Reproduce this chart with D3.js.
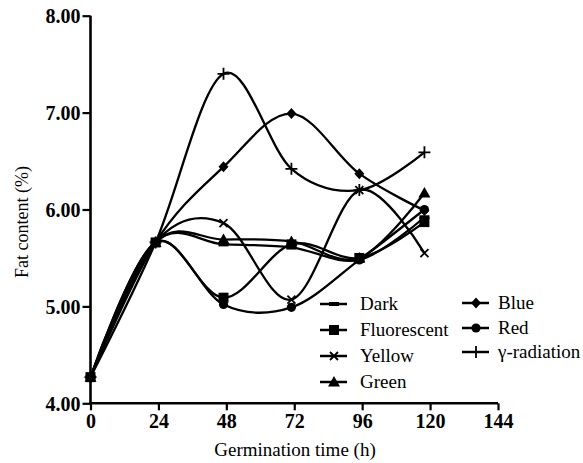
<!DOCTYPE html>
<html>
<head>
<meta charset="utf-8">
<script src="https://cdn.jsdelivr.net/npm/d3@7"></script>
<style>
  html, body { margin: 0; padding: 0; background: #fff; }
  svg { display: block; }
</style>
</head>
<body>
<svg id="chart" width="583" height="463"></svg>
<script>
// Germination time (h) of each sampling point
const hours = [0, 23, 47, 71, 95, 118];

// Fat content (%) per light treatment
const dark        = [4.27, 5.66, 5.64, 5.61, 5.48, 5.92];
const fluorescent = [4.27, 5.66, 5.09, 5.64, 5.50, 5.87];
const yellow      = [4.27, 5.66, 5.86, 5.07, 6.20, 5.55];
const green       = [4.27, 5.66, 5.69, 5.67, 5.50, 6.17];
const blue        = [4.27, 5.66, 6.44, 6.99, 6.37, 5.99];
const red         = [4.27, 5.66, 5.02, 4.99, 5.48, 6.00];
const gamma       = [4.27, 5.66, 7.40, 6.42, 6.20, 6.59];

const seriesNames = ["Dark", "Fluorescent", "Yellow", "Green", "Blue", "Red", "\u03b3-radiation"];
const xTicks = [0, 24, 48, 72, 96, 120, 144];
const yTicks = [4, 5, 6, 7, 8];

const serif = "'Liberation Serif', 'Times New Roman', Times, serif";

const series = [
  { name: seriesNames[0], values: dark,        marker: "dash" },
  { name: seriesNames[1], values: fluorescent, marker: "square" },
  { name: seriesNames[2], values: yellow,      marker: "x" },
  { name: seriesNames[3], values: green,       marker: "triangle" },
  { name: seriesNames[4], values: blue,        marker: "diamond" },
  { name: seriesNames[5], values: red,         marker: "circle" },
  { name: seriesNames[6], values: gamma,       marker: "plus" }
];

const svg = d3.select("#chart");

const x = d3.scaleLinear().domain([0, 144]).range([90.5, 498]);
const y = d3.scaleLinear().domain([4, 8]).range([403.3, 15.7]);

// Marker shapes
function drawMarker(g, type, cx, cy) {
  const m = g.append("g").attr("transform", `translate(${cx},${cy})`);
  switch (type) {
    case "square":
      m.append("rect").attr("x", -5).attr("y", -5).attr("width", 10).attr("height", 10).attr("fill", "#000");
      break;
    case "triangle":
      m.append("path").attr("d", "M0,-6L6,4.5L-6,4.5Z").attr("fill", "#000");
      break;
    case "diamond":
      m.append("path").attr("d", "M0,-5.5L5,0L0,5.5L-5,0Z").attr("fill", "#000");
      break;
    case "circle":
      m.append("circle").attr("r", 4.6).attr("fill", "#000");
      break;
    case "x":
      m.append("path").attr("d", "M-4,-4L4,4M-4,4L4,-4").attr("stroke", "#000").attr("stroke-width", 1.8).attr("fill", "none");
      break;
    case "plus":
      m.append("path").attr("d", "M-6,0L6,0M0,-6L0,6").attr("stroke", "#000").attr("stroke-width", 1.8).attr("fill", "none");
      break;
    case "dash":
      m.append("rect").attr("x", -5).attr("y", -2).attr("width", 10).attr("height", 4).attr("fill", "#000");
      break;
  }
}

// Smooth curves through the points
const line = d3.line()
  .x((d, i) => x(hours[i]))
  .y(d => y(d))
  .curve(d3.curveCatmullRom.alpha(0));

const plot = svg.append("g");
series.forEach(s => {
  plot.append("path")
    .attr("d", line(s.values))
    .attr("fill", "none")
    .attr("stroke", "#000")
    .attr("stroke-width", 2.3);
});
// markers, fluorescent squares on top
const markerOrder = [0, 2, 3, 4, 5, 6, 1];
markerOrder.forEach(k => {
  const s = series[k];
  s.values.forEach((v, i) => drawMarker(plot, s.marker, x(hours[i]), y(v)));
});

// Axes
const xAxis = d3.axisBottom(x).tickValues(xTicks).tickFormat(d3.format("d")).tickSizeOuter(0).tickSize(7).tickPadding(4);
const yAxis = d3.axisLeft(y).tickValues(yTicks).tickFormat(d3.format(".2f")).tickSizeOuter(0).tickSize(8).tickPadding(2);

const gx = svg.append("g").attr("transform", `translate(0,${y(4)})`).call(xAxis);
const gy = svg.append("g").attr("transform", `translate(${x(0)},0)`).call(yAxis);

[gx, gy].forEach(g => {
  g.attr("font-family", serif).attr("font-size", 20);
  g.select(".domain").attr("stroke", "#000").attr("stroke-width", 2.6);
  g.selectAll(".tick line").attr("stroke", "#000").attr("stroke-width", 2.2);
  g.selectAll(".tick text")
    .style("font-family", serif)
    .style("font-size", "20px")
    .style("font-weight", "bold")
    .attr("fill", "#000");
});
gy.selectAll(".tick text").attr("dy", "0.34em");
gy.select(".domain").attr("d", `M0,${y(4) + 1}V${y(8)}`);
gx.select(".domain").attr("d", `M${x(0) - 1},0H${x(144)}`);

// Axis titles
svg.append("text")
  .attr("x", 295).attr("y", 456)
  .attr("text-anchor", "middle")
  .style("font-family", serif)
  .style("font-size", "19px")
  .text("Germination time (h)");

svg.append("text")
  .attr("transform", "translate(28,222) rotate(-90)")
  .attr("text-anchor", "middle")
  .style("font-family", serif)
  .style("font-size", "18px")
  .text("Fat content (%)");

// Legend
const legendPos = [
  [320, 304], [320, 330], [320, 356], [320, 382],
  [462, 303], [462, 328], [462, 352]
];
series.forEach((s, i) => {
  const [lx, ly] = legendPos[i];
  const g = svg.append("g");
  g.append("line").attr("x1", lx).attr("x2", lx + 27).attr("y1", ly).attr("y2", ly)
    .attr("stroke", "#000").attr("stroke-width", 2.5);
  drawMarker(g, s.marker, lx + 14, ly);
  g.append("text")
    .attr("x", i < 4 ? 360 : 498).attr("y", ly + 6)
    .style("font-family", serif)
    .style("font-size", "19px")
    .text(s.name);
});
</script>
</body>
</html>
